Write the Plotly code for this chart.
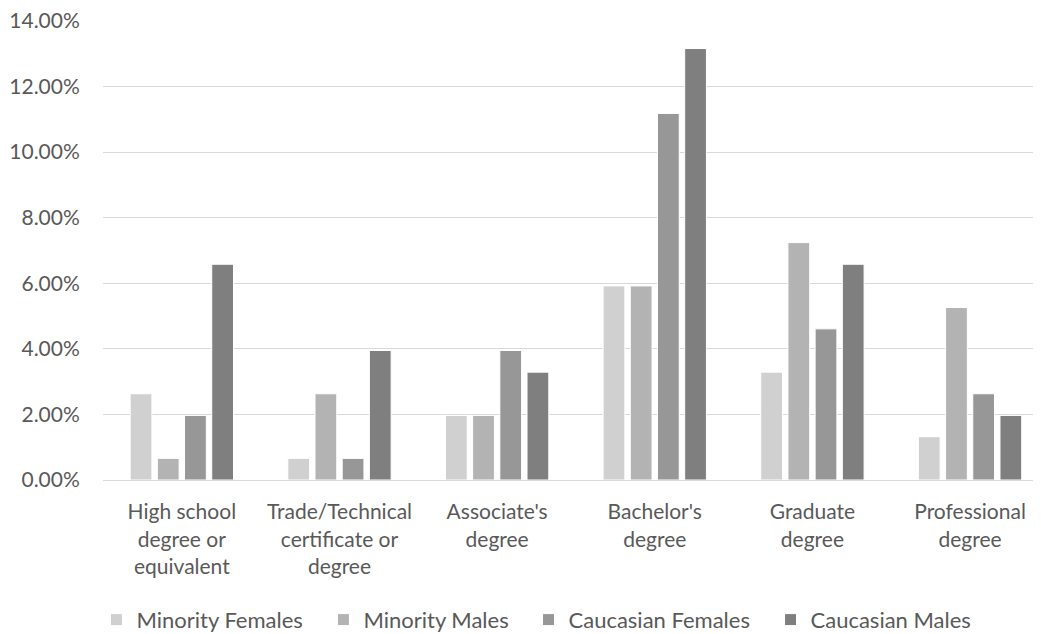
import plotly.graph_objects as go

# categorías del eje X (con saltos de línea como en el original)
categorias = [
    "High school<br>degree or<br>equivalent",
    "Trade/Technical<br>certificate or<br>degree",
    "Associate's<br>degree",
    "Bachelor's<br>degree",
    "Graduate<br>degree",
    "Professional<br>degree",
]

minority_females = [2.63, 0.66, 1.97, 5.92, 3.29, 1.32]
minority_males = [0.66, 2.63, 1.97, 5.92, 7.24, 5.26]
caucasian_females = [1.97, 0.66, 3.95, 11.18, 4.61, 2.63]
caucasian_males = [6.58, 3.95, 3.29, 13.16, 6.58, 1.97]

series = [
    ("Minority Females", minority_females, "#D0D0D0"),
    ("Minority Males", minority_males, "#B3B3B3"),
    ("Caucasian Females", caucasian_females, "#979797"),
    ("Caucasian Males", caucasian_males, "#7F7F7F"),
]

fuente = "Lato, 'Open Sans', sans-serif"
gris_texto = "#595959"

# una leyenda por serie para espaciarlas como en el original
pos_leyendas = [0.0850, 0.3030, 0.5000, 0.7325]
claves = ["legend", "legend2", "legend3", "legend4"]

fig = go.Figure()
for (nombre, valores, color), clave in zip(series, claves):
    fig.add_trace(go.Bar(
        x=categorias,
        y=[v / 100 for v in valores],
        name=nombre,
        legend=clave,
        showlegend=True,
        marker=dict(color=color, line=dict(color="white", width=1)),
    ))

estilo_leyenda = dict(
    visible=True,
    orientation="h",
    xref="container", yref="container",
    xanchor="left",
    y=0.035, yanchor="middle",
    font=dict(size=22, color=gris_texto),
    itemwidth=30,
    bgcolor="rgba(0,0,0,0)",
)

fig.update_layout(
    width=1041, height=634,
    showlegend=True,
    paper_bgcolor="white",
    plot_bgcolor="white",
    barmode="group",
    bargap=0.31,
    bargroupgap=0.2,
    font=dict(family=fuente, size=21, color=gris_texto),
    margin=dict(l=95, r=8, t=12, b=162, autoexpand=False),
    xaxis=dict(
        range=[-0.5, 5.45],
        showgrid=False,
        showline=False,
        ticks="outside",
        ticklen=13,
        tickcolor="rgba(0,0,0,0)",
        automargin=False,
        tickfont=dict(size=21, color=gris_texto),
    ),
    yaxis=dict(
        range=[0, 0.1403],
        tickmode="array",
        tickvals=[0, 0.02, 0.04, 0.06, 0.08, 0.10, 0.12, 0.14],
        tickformat=".2%",
        ticklabeloverflow="allow",
        gridcolor="#D9D9D9",
        gridwidth=1,
        zeroline=True,
        zerolinecolor="#D9D9D9",
        zerolinewidth=1,
        ticks="outside",
        ticklen=18,
        tickcolor="rgba(0,0,0,0)",
        automargin=False,
        tickfont=dict(size=21, color=gris_texto),
    ),
    legend=dict(estilo_leyenda, x=pos_leyendas[0]),
    legend2=dict(estilo_leyenda, x=pos_leyendas[1]),
    legend3=dict(estilo_leyenda, x=pos_leyendas[2]),
    legend4=dict(estilo_leyenda, x=pos_leyendas[3]),
)

fig.write_html("out.html")
